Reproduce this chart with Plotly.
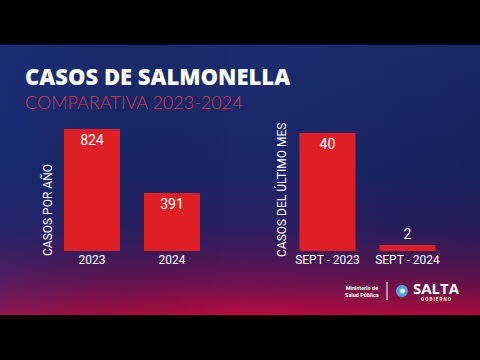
import base64
import plotly.graph_objects as go

# ---- data ----
anual_cats = ["2023", "2024"]
anual_vals = [824, 391]
mes_cats = ["SEPT - 2023", "SEPT - 2024"]
mes_vals = [40, 2]

title_text = "CASOS DE SALMONELLA"
subtitle_text = "COMPARATIVA 2023-2024"
left_axis_title = "CASOS POR AÑO"
right_axis_title = "CASOS DEL ÚLTIMO MES"

W, H = 480, 360
BAR = "#de1f24"

svg = """<svg xmlns='http://www.w3.org/2000/svg' width='480' height='270' preserveAspectRatio='none'>
<defs><linearGradient id='g' x1='0' y1='0' x2='0' y2='1'>
<stop offset='0' stop-color='#1c2c70'/>
<stop offset='0.45' stop-color='#1a2668'/>
<stop offset='0.68' stop-color='#2a1f62'/>
<stop offset='0.8' stop-color='#4d1858'/>
<stop offset='0.9' stop-color='#7a1150'/>
<stop offset='1' stop-color='#b80c3e'/>
</linearGradient>
<linearGradient id='h' x1='0' y1='0' x2='1' y2='0'>
<stop offset='0' stop-color='#1a3a90' stop-opacity='0.25'/>
<stop offset='0.5' stop-color='#000' stop-opacity='0'/>
<stop offset='1' stop-color='#000' stop-opacity='0.1'/>
</linearGradient></defs>
<rect width='480' height='270' fill='url(#g)'/>
<rect width='480' height='270' fill='url(#h)'/>
</svg>"""
src = "data:image/svg+xml;base64," + base64.b64encode(svg.encode()).decode()

fig = go.Figure()
fig.add_trace(go.Bar(
    x=anual_cats, y=anual_vals, xaxis="x", yaxis="y",
    marker=dict(color=BAR, line=dict(width=0)),
    text=[str(v) for v in anual_vals], textposition="inside",
    insidetextanchor="end",
    textfont=dict(color="white", size=14, family="Roboto"),
    hoverinfo="skip",
))
fig.add_trace(go.Bar(
    x=mes_cats, y=mes_vals, xaxis="x2", yaxis="y2",
    marker=dict(color=BAR, line=dict(width=0)),
    text=[str(v) for v in mes_vals], textposition=["inside", "outside"],
    insidetextanchor="end",
    textfont=dict(color="white", size=14, family="Roboto"),
    hoverinfo="skip", cliponaxis=False,
))

ybot = (H - 251) / H
axis_common = dict(showgrid=False, zeroline=False, showline=False, ticks="",
                   tickfont=dict(color="white", size=12, family="Roboto"), fixedrange=True)

fig.update_layout(
    width=W, height=H,
    margin=dict(l=0, r=0, t=0, b=0),
    paper_bgcolor="black", plot_bgcolor="rgba(0,0,0,0)",
    showlegend=False, bargap=0.3,
    uniformtext=dict(minsize=8),
    xaxis=dict(domain=[52 / W, 212 / W], anchor="y", **axis_common),
    yaxis=dict(domain=[ybot, (H - 129) / H], range=[0, 824], anchor="x",
               showticklabels=False, showgrid=False, zeroline=False, fixedrange=True),
    xaxis2=dict(domain=[287.5 / W, 447.5 / W], anchor="y2", **axis_common),
    yaxis2=dict(domain=[ybot, (H - 133) / H], range=[0, 40], anchor="x2",
                showticklabels=False, showgrid=False, zeroline=False, fixedrange=True),
    images=[dict(source=src, xref="paper", yref="paper", x=0, y=(H - 45) / H,
                 sizex=1, sizey=270 / H, sizing="stretch", layer="below",
                 xanchor="left", yanchor="top")],
)

def ann(text, x, y, size, color="white", family="Roboto", angle=0, xanchor="center",
        yanchor="middle", weight=None):
    f = dict(size=size, color=color, family=family)
    if weight:
        f["weight"] = weight
    fig.add_annotation(text=text, x=x / W, y=1 - y / H, xref="paper", yref="paper",
                       showarrow=False, textangle=angle, xanchor=xanchor, yanchor=yanchor,
                       borderpad=0, font=f)

ann(title_text, 24, 76, 22, family="Open Sans", xanchor="left", weight=800)
ann(subtitle_text, 24, 102, 18, color="#d8364c", family="Lato", xanchor="left", weight=300)
ann(left_axis_title, 47, 210, 12, angle=-90)
ann(right_axis_title, 281, 190, 12, angle=-90)

# logo block
ann("<b>Ministerio de<br>Salud Pública</b>", 362, 291, 5.5, family="Roboto")
fig.add_shape(type="line", xref="paper", yref="paper", x0=387 / W, x1=387 / W,
              y0=1 - 282 / H, y1=1 - 300 / H, line=dict(color="white", width=1))
fig.add_shape(type="circle", xref="paper", yref="paper", x0=396 / W, x1=408 / W,
              y0=1 - 285 / H, y1=1 - 297 / H, fillcolor="#4fa3dc", line=dict(width=0))
ann("✹", 402, 291, 8, color="white")
ann("<b>SALTA</b>", 412, 288, 15, family="Open Sans", xanchor="left")
ann("<b>G O B I E R N O</b>", 420, 299, 4.5, family="Roboto", xanchor="left")

fig.write_html("out.html", config={"displayModeBar": False},
               post_script="document.body.style.margin='0';document.body.style.overflow='hidden';")
